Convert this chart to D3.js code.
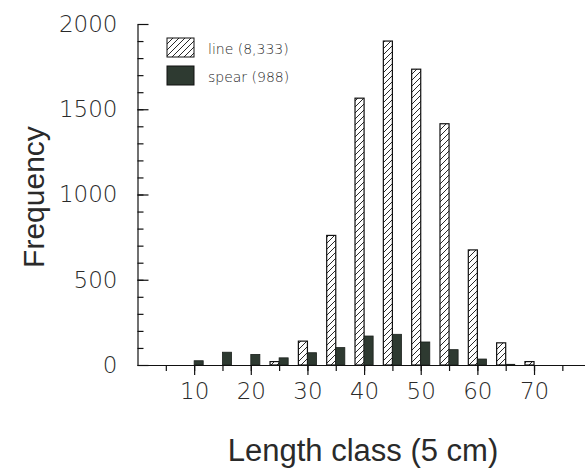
<!DOCTYPE html>
<html>
<head>
<meta charset="utf-8">
<script src="https://cdn.jsdelivr.net/npm/d3@7"></script>
<style>
  body { margin: 0; background: #fff; }
  text { fill: #2a2a2a; }
</style>
</head>
<body>
<script>
var w = 585;
var h = 468;

// length classes (5 cm) and counts
var classes = [10, 15, 20, 25, 30, 35, 40, 45, 50, 55, 60, 65, 70];
var lineCounts  = [0, 0, 0, 20, 140, 760, 1565, 1900, 1735, 1415, 675, 130, 20];
var spearCounts = [25, 75, 62, 42, 72, 102, 170, 180, 135, 90, 35, 4, 0];
var xTickLabels = [10, 20, 30, 40, 50, 60, 70];
var yTickLabels = [0, 500, 1000, 1500, 2000];
var legendLabels = ["line (8,333)", "spear (988)"];

var lineData = classes.map(function(c, i) { return {cls: c, n: lineCounts[i]}; })
    .filter(function(d) { return d.n > 0; });
var spearData = classes.map(function(c, i) { return {cls: c, n: spearCounts[i]}; })
    .filter(function(d) { return d.n > 0; });

var svg = d3.select("body")
            .append("svg")
            .attr("width", w)
            .attr("height", h);

var x = d3.scaleLinear().domain([0, 79]).range([137.5, 585]);
var y = d3.scaleLinear().domain([0, 2000]).range([365, 24]);
var barW = x(1.6) - x(0);

// hatch pattern for the line fishery
var pat = svg.append("defs").append("pattern")
    .attr("id", "hatch")
    .attr("patternUnits", "userSpaceOnUse")
    .attr("width", 6)
    .attr("height", 6);
pat.append("rect").attr("width", 6).attr("height", 6).attr("fill", "#fff");
pat.append("path")
    .attr("d", "M-1,1 l2,-2 M0,6 l6,-6 M5,7 l2,-2")
    .attr("stroke", "#111")
    .attr("stroke-width", 0.9);

// BARS ========================================

svg.selectAll("rect.line")
    .data(lineData)
    .enter().append("rect")
        .attr("class", "line")
        .attr("x", function(d) { return x(d.cls) - barW; })
        .attr("y", function(d) { return y(d.n); })
        .attr("width", barW)
        .attr("height", function(d) { return y(0) - y(d.n); })
        .attr("fill", "url(#hatch)")
        .attr("stroke", "#111")
        .attr("stroke-width", 1.2);

svg.selectAll("rect.spear")
    .data(spearData)
    .enter().append("rect")
        .attr("class", "spear")
        .attr("x", function(d) { return x(d.cls); })
        .attr("y", function(d) { return y(d.n); })
        .attr("width", barW)
        .attr("height", function(d) { return y(0) - y(d.n); })
        .attr("fill", "#2e3a31")
        .attr("stroke", "#1a1f1b")
        .attr("stroke-width", 0.8);

// AXES ========================================

var font = "'DejaVu Sans', sans-serif";
var titleFont = "'Liberation Sans', Arial, sans-serif";

// minor x ticks every 5
svg.append("g")
    .attr("transform", "translate(0," + y(0) + ")")
    .call(d3.axisBottom(x).tickValues(d3.range(5, 80, 5)).tickSize(6).tickFormat(""))
    .call(function(g) { g.select(".domain").remove(); });

var xAxis = svg.append("g")
    .attr("transform", "translate(0," + y(0) + ")")
    .call(d3.axisBottom(x).tickValues(xTickLabels).tickSize(10).tickPadding(8)
          .tickSizeOuter(0).tickFormat(d3.format("d")));
xAxis.select(".domain").attr("d", "M" + x(0) + ",0.5H" + w);
xAxis.attr("font-family", font).attr("font-size", 23).attr("font-weight", 200);

// minor y ticks every 100 (pointing inward)
svg.append("g")
    .attr("transform", "translate(" + x(0) + ",0)")
    .call(d3.axisLeft(y).tickValues(d3.range(100, 2000, 100)).tickSize(-6).tickFormat(""))
    .call(function(g) { g.select(".domain").remove(); });

var yAxis = svg.append("g")
    .attr("transform", "translate(" + x(0) + ",0)")
    .call(d3.axisLeft(y).tickValues(yTickLabels).tickSize(-11).tickPadding(20)
          .tickSizeOuter(0).tickFormat(d3.format("d")));
yAxis.attr("font-family", font).attr("font-size", 23).attr("font-weight", 200);

svg.selectAll(".tick line, .domain").attr("stroke", "#111").attr("stroke-width", 1.2);
svg.selectAll(".tick text").attr("fill", "#000");

svg.append("text")
    .attr("transform", "translate(44,197) rotate(-90)")
    .attr("text-anchor", "middle")
    .attr("font-family", titleFont)
    .attr("font-size", 30)
    .attr("fill", "#222")
    .text("Frequency");

svg.append("text")
    .attr("x", 363)
    .attr("y", 461)
    .attr("text-anchor", "middle")
    .attr("font-family", titleFont)
    .attr("font-size", 31)
    .attr("fill", "#222")
    .text("Length class (5 cm)");

// LEGEND ======================================

var legend = svg.selectAll("g.legend")
    .data(legendLabels)
    .enter().append("g")
        .attr("class", "legend")
        .attr("transform", function(d, i) { return "translate(167," + (38 + i * 28) + ")"; });

legend.append("rect")
    .attr("width", 27)
    .attr("height", 19)
    .attr("fill", function(d, i) { return i === 0 ? "url(#hatch)" : "#2e3a31"; })
    .attr("stroke", "#111")
    .attr("stroke-width", 1);

legend.append("text")
    .attr("x", 41)
    .attr("y", 16)
    .attr("font-family", font)
    .attr("font-weight", 200)
    .attr("font-size", 14)
    .attr("fill", "#111")
    .text(function(d) { return d; });
</script>
</body>
</html>
